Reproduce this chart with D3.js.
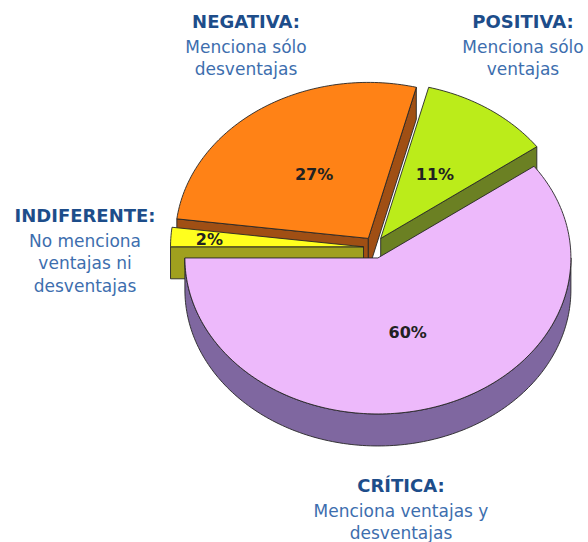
<!DOCTYPE html>
<html>
<head>
<meta charset="utf-8">
<script src="https://cdn.jsdelivr.net/npm/d3@7"></script>
<style>
	body { margin: 0; background: #fff; }
	svg { display: block; }
</style>
</head>
<body>
<svg id="chart" width="588" height="542"></svg>
<script>
// datos, en el orden en que aparecen al recorrer la tarta en sentido horario desde las 9
var categories = ["INDIFERENTE:", "NEGATIVA:", "POSITIVA:", "CRÍTICA:"];
var values = [2, 27, 11, 60];
var descriptions = [
	["No menciona", "ventajas ni", "desventajas"],
	["Menciona sólo", "desventajas"],
	["Menciona sólo", "ventajas"],
	["Menciona ventajas y", "desventajas"]
];
var topColors = ["#ffff1e", "#ff8216", "#bbec1a", "#edb9fb"];
var sideColors = ["#a0a01e", "#a04f14", "#6b8023", "#7f67a0"];

// posición de los rótulos de categoría (centro x, línea base del título)
var labelLayout = [
	{ x: 85, y: 222 },
	{ x: 246, y: 28 },
	{ x: 523, y: 28 },
	{ x: 401, y: 492 }
];

var config = {
	cx: 374.5,
	cy: 247.5,
	rx: 193,
	ry: 156,
	depth: 32,
	explode: 11,
	lineHeight: 22.5,
	strokeColor: "#262626",
	titleColor: "#1d4d8a",
	textColor: "#3d6eae",
	valueColor: "#222"
};

var svg = d3.select("#chart");

var pie = d3.pie()
	.sort(null)
	.startAngle(-Math.PI / 2)
	.endAngle(3 * Math.PI / 2);

var slices = pie(values).map(function(d, i) {
	var mid = (d.startAngle + d.endAngle) / 2;
	d.index = i;
	d.mid = mid;
	d.ox = config.cx + config.explode * Math.sin(mid);
	d.oy = config.cy - config.explode * Math.cos(mid);
	return d;
});

var line = d3.line();

function rimPoint(d, a, dz) {

	return [d.ox + config.rx * Math.sin(a), d.oy - config.ry * Math.cos(a) + (dz || 0)];
}

function rimPoints(d, a0, a1, dz) {

	var n = Math.max(2, Math.ceil((a1 - a0) / 0.02));
	return d3.range(n + 1).map(function(k) {
		return rimPoint(d, a0 + (a1 - a0) * k / n, dz);
	});
}

function topPath(d) {

	return line([[d.ox, d.oy]].concat(rimPoints(d, d.startAngle, d.endAngle))) + "Z";
}

function cutWallPath(d, a) {

	var p = rimPoint(d, a), q = rimPoint(d, a, config.depth);
	return line([[d.ox, d.oy], p, q, [d.ox, d.oy + config.depth]]) + "Z";
}

function outerWallPath(d) {

	var a0 = Math.max(d.startAngle, Math.PI / 2),
		a1 = Math.min(d.endAngle, 3 * Math.PI / 2);

	if (a1 <= a0) {
		return null;
	}

	var pts = rimPoints(d, a0, a1).concat(rimPoints(d, a0, a1, config.depth).reverse());
	return line(pts) + "Z";
}

function drawSlice(d) {

	var g = svg.append("g").attr("class", "slice"),
		walls = [];

	// sólo las paredes que miran al observador
	if (Math.sin(d.startAngle) < 0) {
		walls.push(cutWallPath(d, d.startAngle));
	}
	if (Math.sin(d.endAngle) > 0) {
		walls.push(cutWallPath(d, d.endAngle));
	}
	var outer = outerWallPath(d);
	outer && walls.push(outer);

	walls.forEach(function(p) {
		g.append("path")
			.attr("d", p)
			.attr("fill", sideColors[d.index])
			.attr("stroke", config.strokeColor)
			.attr("stroke-width", 0.9)
			.attr("stroke-linejoin", "round");
	});

	g.append("path")
		.attr("d", topPath(d))
		.attr("fill", topColors[d.index])
		.attr("stroke", config.strokeColor)
		.attr("stroke-width", 0.9)
		.attr("stroke-linejoin", "round");
}

// de atrás hacia delante
slices.slice()
	.sort(function(a, b) { return -Math.cos(a.mid) + Math.cos(b.mid); })
	.forEach(drawSlice);

// porcentajes
svg.append("g")
	.selectAll("text")
	.data(slices)
	.join("text")
	.attr("x", function(d) {
		var f = d.data < 5 ? 0.8 : 0.5;
		return d.ox + f * config.rx * Math.sin(d.mid);
	})
	.attr("y", function(d) {
		var f = d.data < 5 ? 0.8 : 0.5;
		return d.oy - f * config.ry * Math.cos(d.mid) + 6;
	})
	.attr("text-anchor", "middle")
	.attr("font-family", "DejaVu Sans, sans-serif")
	.attr("font-weight", "bold")
	.attr("font-size", 16)
	.attr("fill", config.valueColor)
	.text(function(d) { return d.data + "%"; });

// rótulos de categoría
var labels = svg.append("g")
	.selectAll("g")
	.data(categories)
	.join("g")
	.attr("transform", function(d, i) {
		return "translate(" + labelLayout[i].x + "," + labelLayout[i].y + ")";
	});

labels.append("text")
	.attr("text-anchor", "middle")
	.attr("font-family", "DejaVu Sans, sans-serif")
	.attr("font-weight", "bold")
	.attr("font-size", 18)
	.attr("fill", config.titleColor)
	.text(function(d) { return d; });

labels.each(function(d, i) {
	d3.select(this).selectAll("text.desc")
		.data(descriptions[i])
		.join("text")
		.attr("class", "desc")
		.attr("y", function(t, k) { return (k + 1) * config.lineHeight + 2; })
		.attr("text-anchor", "middle")
		.attr("font-family", "DejaVu Sans, sans-serif")
		.attr("font-size", 17)
		.attr("fill", config.textColor)
		.text(function(t) { return t; });
});
</script>
</body>
</html>
